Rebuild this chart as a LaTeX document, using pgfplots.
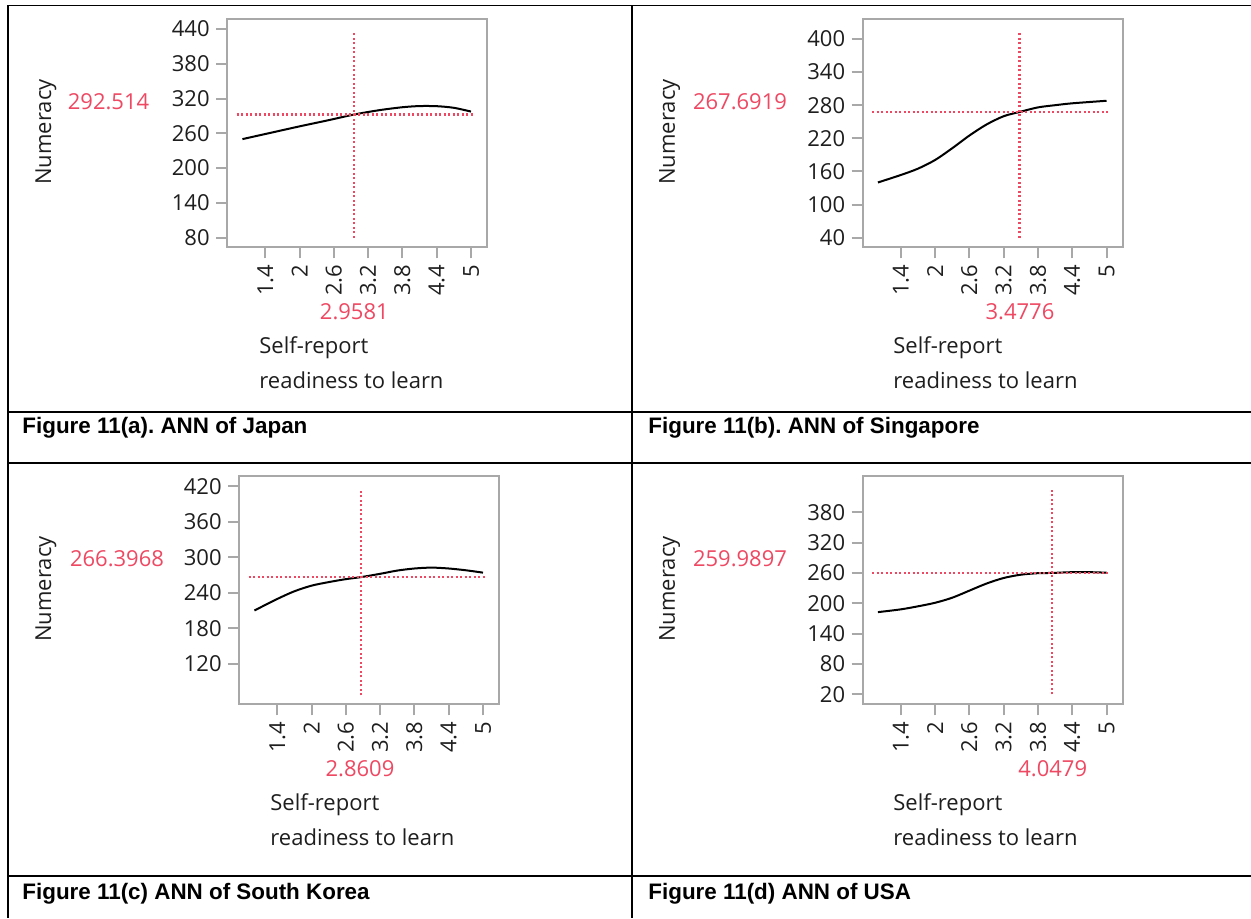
\documentclass[border=0pt]{standalone}
\usepackage{fontspec}
\setmainfont{Open Sans}
\newfontfamily\capfont{Liberation Sans}
\usepackage{pgfplots}
\pgfplotsset{compat=1.18}
\frenchspacing
\definecolor{jmpred}{RGB}{238,72,98}
\definecolor{framegray}{RGB}{168,168,168}
\definecolor{txt}{RGB}{30,30,30}
\newcommand\jmpfont{\fontsize{11}{13}\selectfont}
\newcommand\capf{\capfont\bfseries\fontsize{11.2}{14}\selectfont}
\pgfplotsset{
  jmp/.style={
    scale only axis, width=130pt, height=114pt, anchor=north west,
    axis line style={framegray, line width=1pt},
    xmin=0.73, xmax=5.28,
    xtick={1.4,2,2.6,3.2,3.8,4.4,5},
    xticklabels={1.4,2,2.6,3.2,3.8,4.4,5},
    tick align=outside, major tick length=5.5pt,
    tick style={framegray, line width=1pt},
    xtick pos=lower, ytick pos=left,
    tick label style={font=\jmpfont, text=txt},
    xticklabel style={rotate=90, anchor=east, inner sep=3pt},
    yticklabel style={inner sep=3pt},
    /pgf/number format/assume math mode=true,
    /pgf/number format/1000 sep={},
  },
  curve/.style={black, line width=1pt, smooth},
  rdot/.style={jmpred, line width=1.05pt, dash pattern=on 1.05pt off 1.2pt},
}
\begin{document}
\begin{tikzpicture}
\path[use as bounding box] (0,0) rectangle (625.5pt,-459pt);
% (a) Japan
\begin{axis}[jmp, at={(113.5pt,-9.65pt)}, ymin=63.3, ymax=456.7,
  ytick={80,140,200,260,320,380,440}]
\addplot[curve] coordinates {(1,250) (1.5,261) (2,272) (2.5,282.5) (2.9581,292.5) (3.4,300) (3.8,305) (4.1,307) (4.4,306.8) (4.7,304) (5,297.5)};
\addplot[rdot] coordinates {(0.9,292.514) (5.05,292.514)};
\addplot[rdot] coordinates {(2.9581,80) (2.9581,434)};
\end{axis}
% (b) Singapore
\begin{axis}[jmp, at={(431.25pt,-9.65pt)}, ymin=22.5, ymax=435.6,
  ytick={40,100,160,220,280,340,400}]
\addplot[curve] coordinates {(1,140) (1.4,153.5) (1.7,165) (2,180.7) (2.3,202) (2.6,225) (2.9,245) (3.2,260) (3.4776,267.7) (3.8,276) (4.1,280) (4.4,283.4) (5,288)};
\addplot[rdot] coordinates {(0.9,267.6919) (5.05,267.6919)};
\addplot[rdot] coordinates {(3.4776,40) (3.4776,411.5)};
\end{axis}
% (c) South Korea
\begin{axis}[jmp, at={(119.5pt,-238.15pt)}, ymin=51.3, ymax=436.9,
  ytick={120,180,240,300,360,420}]
\addplot[curve] coordinates {(1,210) (1.4,229.5) (1.7,242.5) (2,252) (2.3,258) (2.6,263) (2.8609,266.4) (3.2,272) (3.5,277.5) (3.8,281) (4.1,282.5) (4.4,281) (4.7,278) (5,274)};
\addplot[rdot] coordinates {(0.9,266.3968) (5.05,266.3968)};
\addplot[rdot] coordinates {(2.8609,66.5) (2.8609,415.5)};
\end{axis}
% (d) USA
\begin{axis}[jmp, at={(431.25pt,-238.15pt)}, ymin=0.25, ymax=451,
  ytick={20,80,140,200,260,320,380}]
\addplot[curve] coordinates {(1,182.5) (1.4,188) (1.7,194) (2,201) (2.3,211) (2.6,225) (2.9,239) (3.2,250) (3.5,256.5) (3.8,259.5) (4.0479,260) (4.4,261.5) (4.7,261.5) (5,260.5)};
\addplot[rdot] coordinates {(0.9,259.9897) (5.05,259.9897)};
\addplot[rdot] coordinates {(4.0479,20) (4.0479,425)};
\end{axis}
\begin{scope}[x=0.5pt,y=-0.5pt]
% table lines
\draw[line width=0.75pt] (8,5.5) -- (1251,5.5);
\draw[line width=0.75pt] (8,412) -- (1251,412);
\draw[line width=0.75pt] (8,463) -- (1251,463);
\draw[line width=0.75pt] (8,876) -- (1251,876);
\draw[line width=0.9pt] (8.3,5) -- (8.3,918);
\draw[line width=0.9pt] (631.7,5) -- (631.7,918);
% captions
\node[anchor=base west, inner sep=0, font=\capf] at (22,433) {Figure 11(a). ANN of Japan};
\node[anchor=base west, inner sep=0, font=\capf] at (648,433) {Figure 11(b). ANN of Singapore};
\node[anchor=base west, inner sep=0, font=\capf] at (22,899) {Figure 11(c) ANN of South Korea};
\node[anchor=base west, inner sep=0, font=\capf] at (648,899) {Figure 11(d) ANN of USA};
% JMP labels row 1
\begin{scope}[every node/.style={font=\jmpfont, inner sep=0, text=txt}]
\node[rotate=90] at (46,132) {Numeracy};
\node[text=jmpred] at (108.5,102) {292.514};
\node[text=jmpred] at (354.3,312) {2.9581};
\node[anchor=west] at (259,348) {Self-report};
\node[anchor=west] at (259,380) {readiness to learn};
\node[rotate=90] at (669.6,132) {Numeracy};
\node[text=jmpred] at (740,102) {267.6919};
\node[text=jmpred] at (1020,312) {3.4776};
\node[anchor=west] at (893,348) {Self-report};
\node[anchor=west] at (893,380) {readiness to learn};
% row 2
\node[rotate=90] at (46,589) {Numeracy};
\node[text=jmpred] at (117,559) {266.3968};
\node[text=jmpred] at (360,769) {2.8609};
\node[anchor=west] at (270,805) {Self-report};
\node[anchor=west] at (270,837) {readiness to learn};
\node[rotate=90] at (669.6,589) {Numeracy};
\node[text=jmpred] at (740,559) {259.9897};
\node[text=jmpred] at (1052.7,769) {4.0479};
\node[anchor=west] at (893,805) {Self-report};
\node[anchor=west] at (893,837) {readiness to learn};
\end{scope}
\end{scope}
\end{tikzpicture}
\end{document}
